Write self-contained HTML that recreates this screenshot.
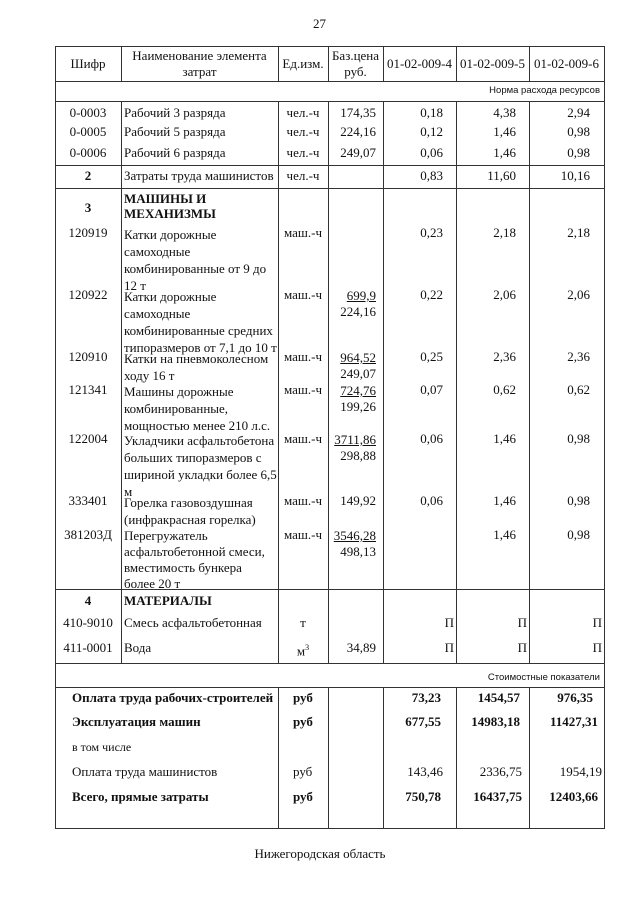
<!DOCTYPE html>
<html><head><meta charset="utf-8"><style>
body{margin:0;background:#fff;}
#p{position:relative;width:640px;height:905px;overflow:hidden;background:#fff;font-family:"Liberation Serif","Noto Serif CJK SC",serif;font-size:13px;color:#111;}
.t{position:absolute;white-space:nowrap;line-height:14px;}
.r{text-align:right;}
.c{text-align:center;}
.b{font-weight:bold;}
.s{font-family:"Liberation Sans",sans-serif;font-size:9.5px;}
.h{position:absolute;height:1px;background:#333;}
.v{position:absolute;width:1px;background:#333;}
u{text-decoration:underline;}
</style></head><body><div id="p">
<div class="t" style="left:313px;top:17px;font-size:13px">27</div>

<div class="h" style="left:55px;width:550px;top:46px"></div>
<div class="h" style="left:55px;width:550px;top:81px"></div>
<div class="h" style="left:55px;width:550px;top:101px"></div>
<div class="h" style="left:55px;width:550px;top:165px"></div>
<div class="h" style="left:55px;width:550px;top:188px"></div>
<div class="h" style="left:55px;width:550px;top:589px"></div>
<div class="h" style="left:55px;width:550px;top:663px"></div>
<div class="h" style="left:55px;width:550px;top:687px"></div>
<div class="h" style="left:55px;width:550px;top:828px"></div>

<div class="v" style="left:55px;top:46px;height:783px"></div>
<div class="v" style="left:604px;top:46px;height:783px"></div>
<div class="v" style="left:121px;top:46px;height:35px"></div>
<div class="v" style="left:121px;top:101px;height:562px"></div>
<div class="v" style="left:278px;top:46px;height:35px"></div>
<div class="v" style="left:278px;top:101px;height:562px"></div>
<div class="v" style="left:278px;top:687px;height:141px"></div>
<div class="v" style="left:328px;top:46px;height:35px"></div>
<div class="v" style="left:328px;top:101px;height:562px"></div>
<div class="v" style="left:328px;top:687px;height:141px"></div>
<div class="v" style="left:383px;top:46px;height:35px"></div>
<div class="v" style="left:383px;top:101px;height:562px"></div>
<div class="v" style="left:383px;top:687px;height:141px"></div>
<div class="v" style="left:456px;top:46px;height:35px"></div>
<div class="v" style="left:456px;top:101px;height:562px"></div>
<div class="v" style="left:456px;top:687px;height:141px"></div>
<div class="v" style="left:529px;top:46px;height:35px"></div>
<div class="v" style="left:529px;top:101px;height:562px"></div>
<div class="v" style="left:529px;top:687px;height:141px"></div>

<div class="t c" style="left:55px;width:66px;top:57px">Шифр</div>
<div class="t c" style="left:121px;width:157px;top:49px">Наименование элемента</div>
<div class="t c" style="left:121px;width:157px;top:65px">затрат</div>
<div class="t c" style="left:278px;width:50px;top:57px">Ед.изм.</div>
<div class="t c" style="left:328px;width:55px;top:49px">Баз.цена</div>
<div class="t c" style="left:328px;width:55px;top:65px">руб.</div>
<div class="t c" style="left:383px;width:73px;top:57px">01-02-009-4</div>
<div class="t c" style="left:456px;width:73px;top:57px">01-02-009-5</div>
<div class="t c" style="left:529px;width:75px;top:57px">01-02-009-6</div>
<div class="t r s" style="right:40px;top:84px">Норма расхода ресурсов</div>

<div class="t c" style="left:55px;width:66px;top:106px">0-0003</div>
<div class="t" style="left:124px;top:106px">Рабочий 3 разряда</div>
<div class="t c" style="left:278px;width:50px;top:106px">чел.-ч</div>
<div class="t r" style="right:264px;top:106px">174,35</div>
<div class="t r" style="right:197px;top:106px">0,18</div>
<div class="t r" style="right:124px;top:106px">4,38</div>
<div class="t r" style="right:50px;top:106px">2,94</div>

<div class="t c" style="left:55px;width:66px;top:125px">0-0005</div>
<div class="t" style="left:124px;top:125px">Рабочий 5 разряда</div>
<div class="t c" style="left:278px;width:50px;top:125px">чел.-ч</div>
<div class="t r" style="right:264px;top:125px">224,16</div>
<div class="t r" style="right:197px;top:125px">0,12</div>
<div class="t r" style="right:124px;top:125px">1,46</div>
<div class="t r" style="right:50px;top:125px">0,98</div>

<div class="t c" style="left:55px;width:66px;top:146px">0-0006</div>
<div class="t" style="left:124px;top:146px">Рабочий 6 разряда</div>
<div class="t c" style="left:278px;width:50px;top:146px">чел.-ч</div>
<div class="t r" style="right:264px;top:146px">249,07</div>
<div class="t r" style="right:197px;top:146px">0,06</div>
<div class="t r" style="right:124px;top:146px">1,46</div>
<div class="t r" style="right:50px;top:146px">0,98</div>

<div class="t c b" style="left:55px;width:66px;top:169px">2</div>
<div class="t" style="left:124px;top:169px">Затраты труда машинистов</div>
<div class="t c" style="left:278px;width:50px;top:169px">чел.-ч</div>
<div class="t r" style="right:197px;top:169px">0,83</div>
<div class="t r" style="right:124px;top:169px">11,60</div>
<div class="t r" style="right:50px;top:169px">10,16</div>

<div class="t c b" style="left:55px;width:66px;top:201px">3</div>
<div class="t b" style="left:124px;top:192px">МАШИНЫ И</div>
<div class="t b" style="left:124px;top:207px">МЕХАНИЗМЫ</div>

<div class="t c" style="left:55px;width:66px;top:226px">120919</div>
<div class="t" style="left:124px;top:226px;line-height:17px">Катки дорожные<br>самоходные<br>комбинированные от 9 до<br>12 т</div>
<div class="t c" style="left:278px;width:50px;top:226px">маш.-ч</div>
<div class="t r" style="right:197px;top:226px">0,23</div>
<div class="t r" style="right:124px;top:226px">2,18</div>
<div class="t r" style="right:50px;top:226px">2,18</div>

<div class="t c" style="left:55px;width:66px;top:288px">120922</div>
<div class="t" style="left:124px;top:288px;line-height:17px">Катки дорожные<br>самоходные<br>комбинированные средних<br>типоразмеров от 7,1 до 10 т</div>
<div class="t c" style="left:278px;width:50px;top:288px">маш.-ч</div>
<div class="t r" style="right:264px;top:288px;line-height:16px"><u>699,9</u><br>224,16</div>
<div class="t r" style="right:197px;top:288px">0,22</div>
<div class="t r" style="right:124px;top:288px">2,06</div>
<div class="t r" style="right:50px;top:288px">2,06</div>

<div class="t c" style="left:55px;width:66px;top:350px">120910</div>
<div class="t" style="left:124px;top:350px;line-height:17px">Катки на пневмоколесном<br>ходу 16 т</div>
<div class="t c" style="left:278px;width:50px;top:350px">маш.-ч</div>
<div class="t r" style="right:264px;top:350px;line-height:16px"><u>964,52</u><br>249,07</div>
<div class="t r" style="right:197px;top:350px">0,25</div>
<div class="t r" style="right:124px;top:350px">2,36</div>
<div class="t r" style="right:50px;top:350px">2,36</div>

<div class="t c" style="left:55px;width:66px;top:383px">121341</div>
<div class="t" style="left:124px;top:383px;line-height:17px">Машины дорожные<br>комбинированные,<br>мощностью менее 210 л.с.</div>
<div class="t c" style="left:278px;width:50px;top:383px">маш.-ч</div>
<div class="t r" style="right:264px;top:383px;line-height:16px"><u>724,76</u><br>199,26</div>
<div class="t r" style="right:197px;top:383px">0,07</div>
<div class="t r" style="right:124px;top:383px">0,62</div>
<div class="t r" style="right:50px;top:383px">0,62</div>

<div class="t c" style="left:55px;width:66px;top:432px">122004</div>
<div class="t" style="left:124px;top:432px;line-height:17px">Укладчики асфальтобетона<br>больших типоразмеров с<br>шириной укладки более 6,5<br>м</div>
<div class="t c" style="left:278px;width:50px;top:432px">маш.-ч</div>
<div class="t r" style="right:264px;top:432px;line-height:16px"><u>3711,86</u><br>298,88</div>
<div class="t r" style="right:197px;top:432px">0,06</div>
<div class="t r" style="right:124px;top:432px">1,46</div>
<div class="t r" style="right:50px;top:432px">0,98</div>

<div class="t c" style="left:55px;width:66px;top:494px">333401</div>
<div class="t" style="left:124px;top:494px;line-height:17px">Горелка газовоздушная<br>(инфракрасная горелка)</div>
<div class="t c" style="left:278px;width:50px;top:494px">маш.-ч</div>
<div class="t r" style="right:264px;top:494px">149,92</div>
<div class="t r" style="right:197px;top:494px">0,06</div>
<div class="t r" style="right:124px;top:494px">1,46</div>
<div class="t r" style="right:50px;top:494px">0,98</div>

<div class="t c" style="left:55px;width:66px;top:528px">381203Д</div>
<div class="t" style="left:124px;top:528px;line-height:16px">Перегружатель<br>асфальтобетонной смеси,<br>вместимость бункера<br>более 20 т</div>
<div class="t c" style="left:278px;width:50px;top:528px">маш.-ч</div>
<div class="t r" style="right:264px;top:528px;line-height:16px"><u>3546,28</u><br>498,13</div>
<div class="t r" style="right:124px;top:528px">1,46</div>
<div class="t r" style="right:50px;top:528px">0,98</div>

<div class="t c b" style="left:55px;width:66px;top:594px">4</div>
<div class="t b" style="left:124px;top:594px">МАТЕРИАЛЫ</div>

<div class="t c" style="left:55px;width:66px;top:616px">410-9010</div>
<div class="t" style="left:124px;top:616px">Смесь асфальтобетонная</div>
<div class="t c" style="left:278px;width:50px;top:616px">т</div>
<div class="t r" style="right:186px;top:616px">П</div>
<div class="t r" style="right:113px;top:616px">П</div>
<div class="t r" style="right:38px;top:616px">П</div>

<div class="t c" style="left:55px;width:66px;top:641px">411-0001</div>
<div class="t" style="left:124px;top:641px">Вода</div>
<div class="t c" style="left:278px;width:50px;top:641px">м<sup style="font-size:8px">3</sup></div>
<div class="t r" style="right:264px;top:641px">34,89</div>
<div class="t r" style="right:186px;top:641px">П</div>
<div class="t r" style="right:113px;top:641px">П</div>
<div class="t r" style="right:38px;top:641px">П</div>

<div class="t r s" style="right:40px;top:671px">Стоимостные показатели</div>

<div class="t b" style="left:72px;top:691px">Оплата труда рабочих-строителей</div>
<div class="t b" style="left:293px;top:691px">руб</div>
<div class="t r b" style="right:199px;top:691px">73,23</div>
<div class="t r b" style="right:120px;top:691px">1454,57</div>
<div class="t r b" style="right:47px;top:691px">976,35</div>

<div class="t b" style="left:72px;top:715px">Эксплуатация машин</div>
<div class="t b" style="left:293px;top:715px">руб</div>
<div class="t r b" style="right:199px;top:715px">677,55</div>
<div class="t r b" style="right:120px;top:715px">14983,18</div>
<div class="t r b" style="right:42px;top:715px">11427,31</div>

<div class="t" style="left:72px;top:740px;font-size:12px">в том числе</div>

<div class="t" style="left:72px;top:765px">Оплата труда машинистов</div>
<div class="t" style="left:293px;top:765px">руб</div>
<div class="t r" style="right:197px;top:765px">143,46</div>
<div class="t r" style="right:118px;top:765px">2336,75</div>
<div class="t r" style="right:38px;top:765px">1954,19</div>

<div class="t b" style="left:72px;top:790px">Всего, прямые затраты</div>
<div class="t b" style="left:293px;top:790px">руб</div>
<div class="t r b" style="right:199px;top:790px">750,78</div>
<div class="t r b" style="right:118px;top:790px">16437,75</div>
<div class="t r b" style="right:42px;top:790px">12403,66</div>

<div class="t c" style="left:0;width:640px;top:847px;font-size:13px">Нижегородская область</div>
</div></body></html>
